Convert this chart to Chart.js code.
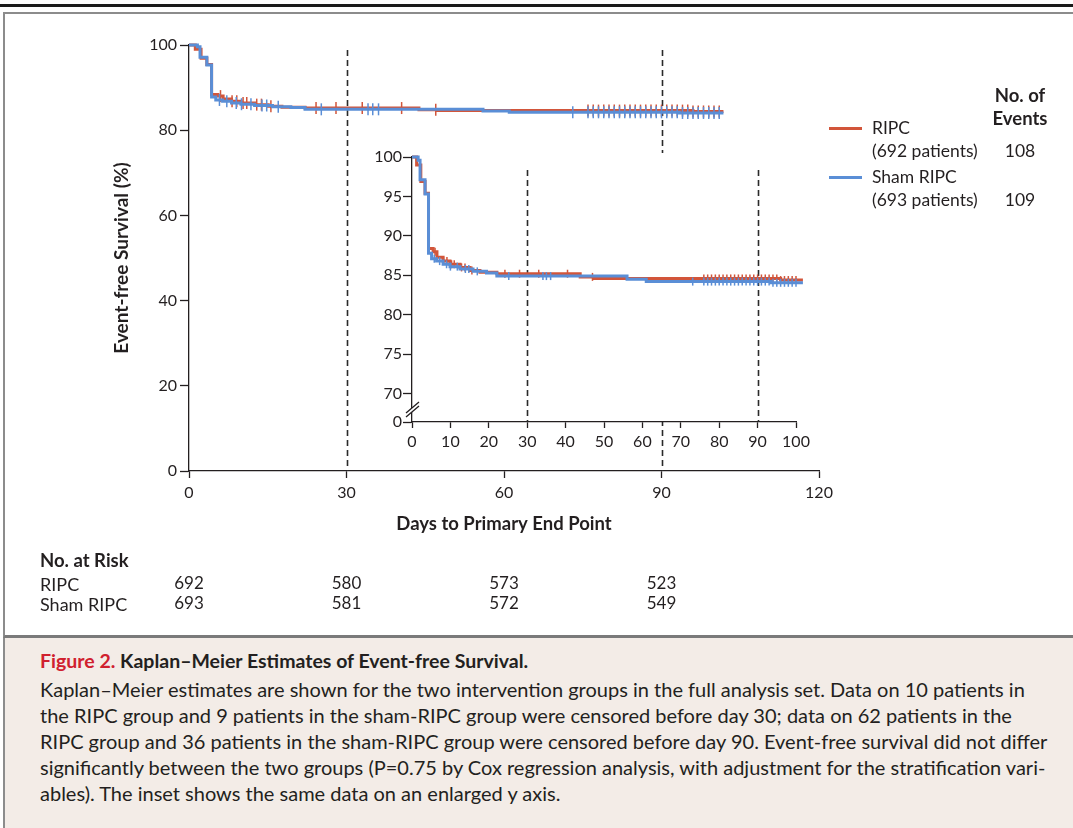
<!DOCTYPE html>
<html><head><meta charset="utf-8">
<script src="https://cdn.jsdelivr.net/npm/chart.js@4.4.1/dist/chart.umd.min.js"></script>
<style>
body{margin:0;width:1073px;height:828px;position:relative;overflow:hidden;background:#fff;font-family:Lato,"Open Sans",sans-serif;color:#231f20}
.a{position:absolute;white-space:nowrap}
</style></head><body>
<div class="a" style="left:0;top:4px;width:1073px;height:3px;background:#1a1a1a"></div>
<div class="a" style="left:3px;top:12px;width:1080px;height:621px;border-top:2px solid #8c8c8c;border-left:2px solid #8c8c8c;border-bottom:3px solid #7a7a7a"></div>
<div class="a" style="left:3px;top:638px;width:1080px;height:200px;background:#f3ece7;border-left:2px solid #8c8c8c"></div>
<canvas id="main" width="1073" height="636" style="position:absolute;left:0;top:0"></canvas>
<canvas id="inset" width="500" height="330" style="position:absolute;left:340px;top:140px"></canvas>

<div class="a" style="left:980px;width:80px;text-align:center;top:84px;line-height:22px;font-size:18.5px;font-weight:bold">No. of</div>
<div class="a" style="left:980px;width:80px;text-align:center;top:107px;line-height:22px;font-size:18.5px;font-weight:bold">Events</div>
<div class="a" style="left:829px;top:127px;width:33px;height:3px;background:#d2553a"></div>
<div class="a" style="left:872px;top:117px;line-height:22px;font-size:17.5px">RIPC</div>
<div class="a" style="left:872px;top:140px;line-height:22px;font-size:17.5px">(692 patients)</div>
<div class="a" style="left:980px;width:80px;text-align:center;top:140px;line-height:22px;font-size:17.5px">108</div>
<div class="a" style="left:829px;top:176px;width:33px;height:3px;background:#5a8ed6"></div>
<div class="a" style="left:872px;top:166px;line-height:22px;font-size:17.5px">Sham RIPC</div>
<div class="a" style="left:872px;top:189px;line-height:22px;font-size:17.5px">(693 patients)</div>
<div class="a" style="left:980px;width:80px;text-align:center;top:189px;line-height:22px;font-size:17.5px">109</div>

<div class="a" style="left:40px;top:549px;line-height:22px;font-size:18.5px;font-weight:bold">No. at Risk</div>
<div class="a" style="left:40px;top:573px;line-height:22px;font-size:18px">RIPC</div>
<div class="a" style="left:40px;top:593px;line-height:22px;font-size:18px">Sham RIPC</div>

<div class="a" style="left:40px;top:650px;line-height:22px;font-size:19.5px;font-weight:bold"><span style="color:#d0202e">Figure 2.</span> Kaplan–Meier Estimates of Event-free Survival.</div>
<div class="a" id="cap" style="left:40px;top:676px;line-height:26px;font-size:20px">
Kaplan–Meier estimates are shown for the two intervention groups in the full analysis set. Data on 10 patients in<br>
the RIPC group and 9 patients in the sham-RIPC group were censored before day 30; data on 62 patients in the<br>
RIPC group and 36 patients in the sham-RIPC group were censored before day 90. Event-free survival did not differ<br>
significantly between the two groups (P=0.75 by Cox regression analysis, with adjustment for the stratification vari-<br>
ables). The inset shows the same data on an enlarged y axis.</div>

<script>
// ---- data ----
const ripcTimes = [0, 1.2, 2.3, 3.4, 4.3, 5.5, 6.5, 8.1, 9.9, 12.5, 15.1, 17.7, 22.1, 43.8, 47.3, 96.0, 101.8];
const ripcSurv  = [100, 99.0, 96.9, 95.4, 88.4, 88.0, 87.3, 86.8, 86.4, 86.0, 85.6, 85.4, 85.2, 84.8, 84.6, 84.4, 84.4];
const shamTimes = [0, 1.6, 2.1, 3.4, 4.3, 5.1, 6.4, 8.1, 9.9, 12.5, 15.9, 19.4, 22.1, 56.0, 61.0, 93.4, 101.8];
const shamSurv  = [100, 99.6, 97.1, 95.3, 87.8, 87.1, 86.8, 86.4, 86.1, 85.8, 85.5, 85.3, 84.9, 84.5, 84.2, 84.05, 84.05];
const ripcCensor = [6.0, 8.2, 9.1, 10.3, 11.0, 12.9, 13.8, 15.6, 24.2, 28.0, 33.0, 40.5, 47.0,
  76, 77, 78, 79, 80, 81, 82, 83, 84, 85, 86, 87, 88, 89, 90, 91, 92, 93, 94, 95, 96, 97, 98, 99, 100, 101];
const shamCensor = [5.8, 7.2, 9.0, 10.0, 11.8, 13.9, 14.8, 17.0, 25.2, 34.1, 35.0, 36.1, 73.1,
  76, 77, 78, 79, 80, 81, 82, 83, 84, 85, 86, 87, 88, 89, 90, 91, 92, 93, 94, 95, 96, 97, 98, 99, 100, 101];
const mainXTicks = [0, 30, 60, 90, 120];
const mainYTicks = [0, 20, 40, 60, 80, 100];
const insetXTicks = [0, 10, 20, 30, 40, 50, 60, 70, 80, 90, 100];
const insetYTicks = [70, 75, 80, 85, 90, 95, 100];
const insetBreakLabel = '0';
const guideDays = [30, 90];
const riskDays = [0, 30, 60, 90];
const riskRipc = [692, 580, 573, 523];
const riskSham = [693, 581, 572, 549];

// ---- style ----
const RED = '#d2553a', BLUE = '#5a8ed6', INK = '#231f20', AX = '#231f20';
const FONT = 'Lato';
const insetYBase = 66.4; // where the broken inset axis meets the x axis

function stepAt(ts, ss, t){ let v = ss[0]; for (let i=0;i<ts.length;i++){ if (ts[i] <= t) v = ss[i]; } return v; }
function curve(ts, ss, color, lw, order){
  return {data: ts.map((t,i)=>({x:t,y:ss[i]})), showLine:true, stepped:true, borderColor:color, backgroundColor:color,
    borderWidth:lw, pointRadius:0, pointHoverRadius:0, fill:false, clip:false, order};
}
function censor(cs, ts, ss, color, r, order){
  return {data: cs.map(t=>({x:t,y:stepAt(ts,ss,t)})), showLine:false, pointStyle:'line', rotation:90,
    pointRadius:r, pointHoverRadius:r, borderColor:color, backgroundColor:color, borderWidth:1.5, clip:false, order};
}
function ticksFrom(arr){ return s => { s.ticks = arr.map(v=>({value:v})); }; }

const guides = {
  id:'guides',
  beforeDatasetsDraw(chart, args, o){
    const {ctx, chartArea:a, scales:{x}} = chart;
    ctx.save(); ctx.setLineDash([6,4]); ctx.strokeStyle = '#2a2a2a'; ctx.lineWidth = 1.6;
    o.days.forEach(d => { const px = Math.round(x.getPixelForValue(d))+0.5; ctx.beginPath(); ctx.moveTo(px, a.top + o.topGap); ctx.lineTo(px, a.bottom); ctx.stroke(); });
    ctx.restore();
  }
};
const riskTable = {
  id:'riskTable',
  afterDraw(chart){
    const {ctx, scales:{x}} = chart;
    ctx.save(); ctx.font = '17px ' + FONT; ctx.fillStyle = INK; ctx.textAlign = 'center'; ctx.textBaseline = 'middle';
    riskDays.forEach((d,i) => { const px = x.getPixelForValue(d); ctx.fillText(String(riskRipc[i]), px, 584); ctx.fillText(String(riskSham[i]), px, 604); });
    ctx.restore();
  }
};
const insetBg = {
  id:'insetBg',
  beforeDraw(chart){
    const {ctx, chartArea:a} = chart;
    ctx.save(); ctx.fillStyle = '#fff'; ctx.fillRect(a.left - 45, a.top - 4, a.width + 70, a.height + 4); ctx.restore();
  }
};
const axisBreak = {
  id:'axisBreak',
  afterDraw(chart){
    const {ctx, chartArea:a, scales:{y}} = chart;
    const x0 = a.left, yc = y.getPixelForValue(insetYBase) - 12;
    ctx.save();
    ctx.fillStyle = '#fff';
    ctx.beginPath(); ctx.moveTo(x0-6, yc+3); ctx.lineTo(x0+7, yc-8); ctx.lineTo(x0+7, yc-4); ctx.lineTo(x0-6, yc+7); ctx.closePath(); ctx.fill();
    ctx.strokeStyle = AX; ctx.lineWidth = 1.3;
    ctx.beginPath(); ctx.moveTo(x0-6, yc+3); ctx.lineTo(x0+7, yc-8); ctx.moveTo(x0-6, yc+7); ctx.lineTo(x0+7, yc-4); ctx.stroke();
    ctx.restore();
  }
};

function axis(min, max, tickArr, tickLen, pad, fitFn, title, extra){
  return Object.assign({
    type:'linear', min, max, afterBuildTicks: ticksFrom(tickArr), afterFit: fitFn,
    grid:{display:true, drawOnChartArea:false, drawTicks:true, tickLength:tickLen, tickColor:AX, tickWidth:1.3},
    border:{display:true, color:AX, width:1.3},
    ticks:{autoSkip:false, maxRotation:0, padding:pad, color:INK, font:{family:FONT, size:16}},
    title: title ? {display:true, text:title.text, color:INK, padding:0, font:{family:FONT, size:title.size, weight:'bold'}} : {display:false}
  }, extra || {});
}

const mainDatasets = [
  censor(shamCensor, shamTimes, shamSurv, BLUE, 6, 0),
  curve(shamTimes, shamSurv, BLUE, 3, 1),
  censor(ripcCensor, ripcTimes, ripcSurv, RED, 6, 2),
  curve(ripcTimes, ripcSurv, RED, 3, 3)
];
new Chart(document.getElementById('main'), {
  type:'scatter',
  data:{datasets: mainDatasets},
  options:{
    responsive:false, animation:false, devicePixelRatio:1, events:[],
    layout:{padding:{left:110, right:254, top:45, bottom:101}},
    plugins:{legend:{display:false}, tooltip:{enabled:false}, guides:{days:guideDays, topGap:5}},
    scales:{
      x: axis(0, 120, mainXTicks, 7, 5, s=>{s.height=64;}, {text:'Days to Primary End Point', size:18.5}),
      y: axis(0, 100, mainYTicks, 9, 3, s=>{s.width=79;}, {text:'Event-free Survival (%)', size:19})
    }
  },
  plugins:[guides, riskTable]
});

const insetDatasets = [
  censor(shamCensor, shamTimes, shamSurv, BLUE, 4, 0),
  curve(shamTimes, shamSurv, BLUE, 3, 1),
  censor(ripcCensor, ripcTimes, ripcSurv, RED, 4, 2),
  curve(ripcTimes, ripcSurv, RED, 3, 3)
];
new Chart(document.getElementById('inset'), {
  type:'scatter',
  data:{datasets: insetDatasets},
  options:{
    responsive:false, animation:false, devicePixelRatio:1, events:[],
    layout:{padding:{left:32, right:44, top:17, bottom:10}},
    plugins:{legend:{display:false}, tooltip:{enabled:false}, guides:{days:guideDays, topGap:13}},
    scales:{
      x: axis(0, 100, insetXTicks, 6, 4, s=>{s.height=38;}, null),
      y: axis(insetYBase, 100, [insetYBase].concat(insetYTicks), 9, 1, s=>{s.width=40;}, null,
        {ticks:{autoSkip:false, padding:1, color:INK, font:{family:FONT, size:16}, callback:(v)=> v === insetYBase ? insetBreakLabel : String(v)}})
    }
  },
  plugins:[insetBg, guides, axisBreak]
});
</script>
</body></html>
